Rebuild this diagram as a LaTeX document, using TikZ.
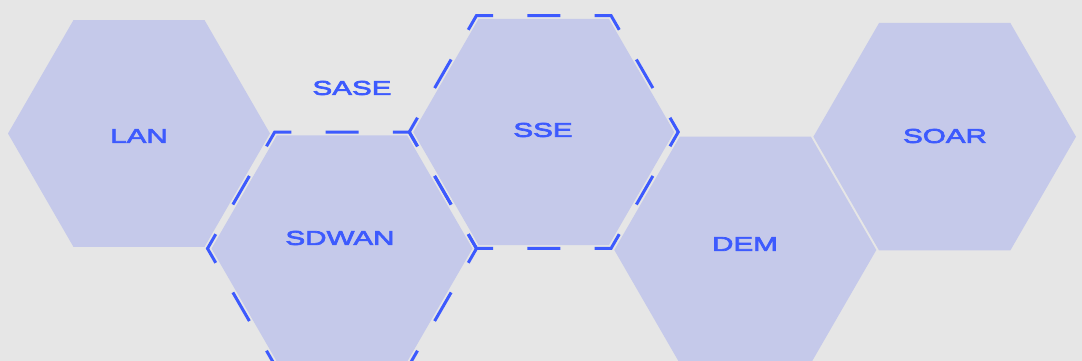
\documentclass[tikz,border=0pt]{standalone}
\usepackage{fontspec}
\newfontfamily\hexfont[FakeStretch=1.48,FakeBold=3.5]{Liberation Sans}
\definecolor{bgc}{HTML}{E6E6E6}
\definecolor{hexc}{HTML}{C5C9EA}
\definecolor{bluec}{HTML}{3D5AFE}
\tikzset{
  hexfill/.style={fill=hexc},
  hexline/.style={draw=bluec,line width=3pt,line join=miter,dash pattern=on 33pt off 34.25pt,dash phase=16.5pt},
  lbl/.style={inner sep=0pt,text=bluec,font=\hexfont\fontsize{20}{21}\selectfont}
}
\newcommand{\hexfillat}[3]{\fill[hexfill,shift={(#1,#2)}] (0:#3) -- (60:#3) -- (120:#3) -- (180:#3) -- (240:#3) -- (300:#3) -- cycle;}
\newcommand{\hexlineat}[3]{\draw[hexline,shift={(#1,#2)}] (90:{0.8660254*#3}) -- (120:#3) -- (180:#3) -- (240:#3) -- (300:#3) -- (0:#3) -- (60:#3) -- (90:{0.8660254*#3});}
\begin{document}
\begin{tikzpicture}[x=1pt,y=-1pt]
\useasboundingbox (0,0) rectangle (1082,361);
\fill[bgc] (0,0) rectangle (1082,361);
\clip (0,0) rectangle (1082,361);
\hexfillat{139}{133.5}{131}
\hexfillat{342}{248.5}{130.5}
\hexfillat{543.75}{132}{130.5}
\hexfillat{745.3}{250}{131}
\hexfillat{944.7}{136.7}{131.3}
\hexlineat{342}{248.5}{134.5}
\hexlineat{543.75}{132}{134.5}
\node[lbl] (lan) at (139,136) {LAN};
\node[lbl] (sdwan) at (340,238) {SDWAN};
\node[lbl] (sse) at (543,130) {SSE};
\node[lbl] (sase) at (352,88) {SASE};
\node[lbl] (dem) at (745,244) {DEM};
\node[lbl] (soar) at (945,136) {SOAR};
\end{tikzpicture}
\end{document}
